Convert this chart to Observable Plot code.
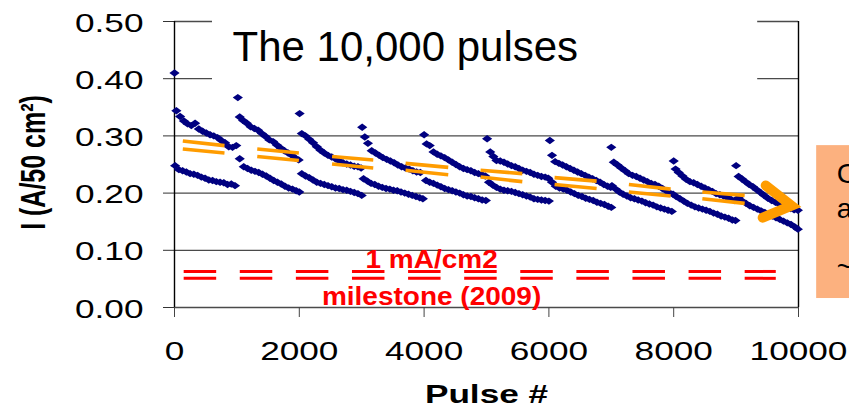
<!DOCTYPE html>
<html>
<head>
<meta charset="utf-8">
<script src="https://cdn.jsdelivr.net/npm/d3@7"></script>
<script src="https://cdn.jsdelivr.net/npm/@observablehq/plot@0.6"></script>
<style>
  html, body { margin: 0; padding: 0; background: #fff; }
  #chart svg { display: block; overflow: visible; }
</style>
</head>
<body>
<div id="chart"></div>
<script>
// Axis ticks
const xTicks = [0, 2000, 4000, 6000, 8000, 10000];
const yTicks = [0, 0.1, 0.2, 0.3, 0.4, 0.5];

// First pulse of every 1000-pulse block (the high point after each restart)
const spikePulse = [0, 1015, 2005, 3008, 4000, 5010, 6015, 7000, 8000, 9000];
const spikeI = [0.41, 0.367, 0.339, 0.315, 0.302, 0.295, 0.292, 0.28, 0.256, 0.248];

// Upper current band
const upperPulse = [
  30, 90, 150, 210, 270, 330, 390, 450, 510, 570, 630, 690, 750, 810, 870, 930, 990,
  1045, 1100, 1160, 1220, 1280, 1340, 1400, 1460, 1520, 1580, 1640, 1700, 1760, 1820, 1880, 1940, 1990,
  2040, 2100, 2160, 2220, 2280, 2340, 2400, 2460, 2520, 2580, 2640, 2700, 2760, 2820, 2880, 2940, 2990,
  3050, 3100, 3160, 3220, 3280, 3340, 3400, 3460, 3520, 3580, 3640, 3700, 3760, 3820, 3880, 3940,
  4040, 4090, 4150, 4210, 4270, 4330, 4390, 4450, 4510, 4570, 4630, 4690, 4750, 4810, 4870, 4930, 4980,
  5060, 5110, 5160, 5220, 5280, 5340, 5400, 5460, 5520, 5580, 5640, 5700, 5760, 5820, 5880, 5940, 5990,
  6050, 6100, 6160, 6220, 6280, 6340, 6400, 6460, 6520, 6580, 6640, 6700, 6760, 6820, 6880, 6940, 6990,
  7040, 7100, 7160, 7220, 7280, 7340, 7400, 7460, 7520, 7580, 7640, 7700, 7760, 7820, 7880, 7940, 7990,
  8030, 8080, 8140, 8200, 8260, 8320, 8380, 8440, 8500, 8560, 8620, 8680, 8740, 8800, 8860, 8920, 8980,
  9040, 9090, 9150, 9210, 9270, 9330, 9390, 9450, 9510, 9570, 9630, 9690, 9750, 9810, 9870, 9930, 9990
];
const upperI = [
  0.344, 0.334, 0.326, 0.321, 0.318, 0.322, 0.312, 0.308, 0.305, 0.302, 0.300, 0.297, 0.292, 0.288, 0.281, 0.280, 0.283,
  0.333, 0.327, 0.322, 0.316, 0.313, 0.310, 0.304, 0.299, 0.293, 0.290, 0.284, 0.279, 0.274, 0.270, 0.266, 0.261, 0.258,
  0.304, 0.300, 0.294, 0.288, 0.281, 0.275, 0.270, 0.266, 0.263, 0.260, 0.256, 0.253, 0.251, 0.249, 0.247, 0.246, 0.244,
  0.298, 0.287, 0.274, 0.270, 0.266, 0.262, 0.259, 0.256, 0.253, 0.249, 0.246, 0.244, 0.242, 0.239, 0.237, 0.236,
  0.286, 0.283, 0.272, 0.268, 0.265, 0.262, 0.258, 0.254, 0.250, 0.246, 0.243, 0.241, 0.239, 0.236, 0.234, 0.232, 0.230,
  0.272, 0.264, 0.257, 0.256, 0.254, 0.251, 0.248, 0.246, 0.243, 0.240, 0.238, 0.236, 0.233, 0.231, 0.229, 0.228, 0.226,
  0.266, 0.255, 0.252, 0.249, 0.246, 0.243, 0.240, 0.237, 0.234, 0.231, 0.228, 0.225, 0.222, 0.219, 0.215, 0.212, 0.210,
  0.254, 0.249, 0.244, 0.239, 0.234, 0.231, 0.229, 0.226, 0.223, 0.220, 0.217, 0.215, 0.212, 0.208, 0.204, 0.200, 0.198,
  0.242, 0.236, 0.230, 0.224, 0.220, 0.218, 0.215, 0.212, 0.209, 0.206, 0.203, 0.199, 0.197, 0.195, 0.192, 0.189, 0.187,
  0.229, 0.225, 0.220, 0.215, 0.211, 0.206, 0.201, 0.196, 0.191, 0.187, 0.184, 0.181, 0.178, 0.175, 0.173, 0.171, 0.170
];

// Lower current band
const lowerPulse = [
  10, 70, 130, 190, 250, 310, 370, 430, 490, 550, 610, 670, 730, 790, 850, 910, 970,
  1045, 1110, 1170, 1230, 1290, 1350, 1410, 1470, 1530, 1590, 1650, 1710, 1770, 1830, 1890, 1950, 2000,
  2040, 2100, 2160, 2220, 2280, 2340, 2400, 2460, 2520, 2580, 2640, 2700, 2760, 2820, 2880, 2940, 3000,
  3030, 3090, 3150, 3210, 3270, 3330, 3390, 3450, 3510, 3570, 3630, 3690, 3750, 3810, 3870, 3930, 3980,
  4030, 4090, 4150, 4210, 4270, 4330, 4390, 4450, 4510, 4570, 4630, 4690, 4750, 4810, 4870, 4930, 4990,
  5040, 5100, 5160, 5220, 5280, 5340, 5400, 5460, 5520, 5580, 5640, 5700, 5760, 5820, 5880, 5940, 6000,
  6050, 6110, 6170, 6230, 6290, 6350, 6410, 6470, 6530, 6590, 6650, 6710, 6770, 6830, 6890, 6950, 7000,
  7010, 7070, 7130, 7190, 7250, 7310, 7370, 7430, 7490, 7550, 7610, 7670, 7730, 7790, 7850, 7910, 7970,
  8040, 8100, 8160, 8220, 8280, 8340, 8400, 8460, 8520, 8580, 8640, 8700, 8760, 8820, 8880, 8940, 8990,
  9040, 9100, 9160, 9220, 9280, 9340, 9400, 9460, 9520, 9580, 9640, 9700, 9760, 9820, 9880, 9940, 9990
];
const lowerI = [
  0.248, 0.241, 0.239, 0.237, 0.234, 0.233, 0.231, 0.228, 0.226, 0.223, 0.222, 0.220, 0.219, 0.218, 0.215, 0.216, 0.213,
  0.260, 0.246, 0.243, 0.240, 0.238, 0.236, 0.233, 0.230, 0.226, 0.222, 0.219, 0.216, 0.212, 0.209, 0.207, 0.204, 0.202,
  0.234, 0.230, 0.227, 0.223, 0.219, 0.217, 0.215, 0.213, 0.211, 0.209, 0.208, 0.206, 0.205, 0.203, 0.201, 0.199, 0.196,
  0.225, 0.221, 0.217, 0.215, 0.212, 0.210, 0.208, 0.207, 0.205, 0.204, 0.202, 0.200, 0.198, 0.196, 0.194, 0.192, 0.190,
  0.222, 0.219, 0.217, 0.214, 0.211, 0.208, 0.206, 0.204, 0.202, 0.200, 0.197, 0.195, 0.194, 0.192, 0.190, 0.188, 0.187,
  0.219, 0.214, 0.210, 0.207, 0.205, 0.204, 0.203, 0.201, 0.199, 0.197, 0.195, 0.193, 0.190, 0.189, 0.188, 0.187, 0.186,
  0.219, 0.212, 0.209, 0.207, 0.205, 0.202, 0.199, 0.196, 0.194, 0.191, 0.189, 0.187, 0.184, 0.182, 0.180, 0.177, 0.175,
  0.213, 0.207, 0.202, 0.198, 0.195, 0.192, 0.190, 0.188, 0.186, 0.183, 0.181, 0.179, 0.176, 0.174, 0.172, 0.170, 0.168,
  0.194, 0.190, 0.186, 0.182, 0.179, 0.176, 0.174, 0.172, 0.170, 0.168, 0.165, 0.163, 0.160, 0.158, 0.156, 0.153, 0.152,
  0.192, 0.186, 0.182, 0.178, 0.175, 0.172, 0.169, 0.166, 0.163, 0.160, 0.157, 0.154, 0.151, 0.148, 0.145, 0.141, 0.137
];

// Orange double-line trend markers
const trendStart = [133, 1326, 2525, 3703, 4905, 6091, 7282, 8459];
const trendEnd = [801, 1993, 3185, 4387, 5574, 6765, 7951, 9137];
const trendUpperFrom = [0.291, 0.277, 0.264, 0.252, 0.240, 0.227, 0.215, 0.202];
const trendUpperTo = [0.283, 0.270, 0.258, 0.245, 0.234, 0.221, 0.207, 0.196];
const trendLowerFrom = [0.277, 0.264, 0.251, 0.240, 0.228, 0.215, 0.202, 0.190];
const trendLowerTo = [0.270, 0.257, 0.244, 0.232, 0.220, 0.208, 0.195, 0.182];

// 1 mA/cm2 milestone (double dashed red line)
const milestoneI = [0.063, 0.051];
const milestoneFrom = 155;
const milestoneTo = 9644;

// Orange chevron pointing right
const arrowPulse = [9474, 9888, 9426];
const arrowI = [0.2133, 0.178, 0.157];

// Call-out box at the right edge
const calloutLines = ["C", "a", "~"];
const calloutBaselineI = [0.2168, 0.1556, 0.0542];

const FONT = "'Liberation Sans', Arial, Helvetica, sans-serif";

const points = [
  ...spikePulse.map((p, i) => ({pulse: p, current: spikeI[i]})),
  ...upperPulse.map((p, i) => ({pulse: p, current: upperI[i]})),
  ...lowerPulse.map((p, i) => ({pulse: p, current: lowerI[i]}))
];
const trends = trendStart.flatMap((s, i) => [
  {x1: s, x2: trendEnd[i], y1: trendUpperFrom[i], y2: trendUpperTo[i]},
  {x1: s, x2: trendEnd[i], y1: trendLowerFrom[i], y2: trendLowerTo[i]}
]);
const arrow = arrowPulse.map((p, i) => ({pulse: p, current: arrowI[i]}));
const callout = calloutLines.map((t, i) => ({text: t, y: calloutBaselineI[i]}));

// Diamond marker that is wider than it is tall
const wideDiamond = {
  draw(context, size) {
    const r = Math.sqrt(size / Math.PI);
    const w = r * 1.38;
    context.moveTo(0, -r);
    context.lineTo(w, 0);
    context.lineTo(0, r);
    context.lineTo(-w, 0);
    context.closePath();
  }
};

const yLabel = "I (A/50 cm²)";
const xLabel = "Pulse #";
const milestoneLabel = ["1 mA/cm2", "milestone (2009)"];

const chart = Plot.plot({
  width: 849,
  height: 407,
  marginLeft: 174,
  marginRight: 51,
  marginTop: 21,
  marginBottom: 100,
  style: {fontFamily: FONT, background: "#fff", overflow: "visible"},
  x: {domain: [0, 10000], axis: null},
  y: {domain: [0, 0.5], axis: null},
  marks: [
    Plot.gridY(yTicks, {stroke: "#4a4a4a", strokeOpacity: 1, strokeWidth: 1.3}),
    Plot.axisY(yTicks, {tickSize: 11, tickFormat: () => "", label: null, stroke: "#333"}),
    Plot.axisX(xTicks, {tickSize: 10, tickFormat: () => "", label: null, stroke: "#444"}),
    Plot.ruleX([0], {stroke: "#000", strokeWidth: 1.4}),
    Plot.ruleX([10000], {stroke: "#000", strokeWidth: 1.4}),

    // tick labels
    Plot.text(yTicks, {x: 0, y: (d) => d, text: (d) => d.toFixed(2), textAnchor: "end", dx: -31, dy: 2,
      fontSize: 25.5, fill: "#000"}),
    Plot.text(xTicks, {x: (d) => d, y: 0, text: (d) => String(d), lineAnchor: "bottom", dy: 52,
      fontSize: 25.5, fill: "#000"}),

    // axis titles
    Plot.text([xLabel], {frameAnchor: "bottom", dy: 95, lineAnchor: "bottom", textAnchor: "middle",
      fontSize: 25.5, fontWeight: "bold", fill: "#000"}),
    Plot.text([yLabel], {frameAnchor: "left", dx: -141, dy: -2, rotate: -90, textAnchor: "middle",
      lineAnchor: "middle", fontSize: 25, fontWeight: "bold", fill: "#000"}),

    // title box
    Plot.rect([{}], {x1: 609, x2: 9346, y1: 0.385, y2: 0.52, fill: "#fff"}),
    Plot.text(["The 10,000 pulses"], {x: 930, y: 0.4318, textAnchor: "start", lineAnchor: "bottom",
      fontSize: 42, fill: "#000"}),

    // measured currents
    Plot.dot(points, {x: "pulse", y: "current", symbol: wideDiamond, r: 3.7, fill: "#000080", stroke: "none"}),

    // trend markers
    Plot.link(trends, {x1: "x1", x2: "x2", y1: "y1", y2: "y2", stroke: "#FF9C00", strokeWidth: 3.6}),

    // milestone
    Plot.ruleY(milestoneI, {x1: milestoneFrom, x2: milestoneTo, stroke: "#FF0000", strokeWidth: 3,
      strokeDasharray: "32.5,23.6"}),
    Plot.text([milestoneLabel[0]], {x: 4120, y: 0.0682, lineAnchor: "bottom", fontSize: 25, fontWeight: "bold",
      fill: "#FF0000"}),
    Plot.text([milestoneLabel[1]], {x: 4120, y: 0.0035, lineAnchor: "bottom", fontSize: 25, fontWeight: "bold",
      fill: "#FF0000"}),

    // chevron
    Plot.line(arrow, {x: "pulse", y: "current", stroke: "#FF9C00", strokeWidth: 10,
      strokeLinecap: "round", strokeLinejoin: "miter", strokeMiterlimit: 10}),

    // call-out box
    Plot.rect([{}], {x1: 10291, x2: 11200, y1: 0.0157, y2: 0.283, fill: "#FCB17F"}),
    Plot.text(callout, {x: 10612, y: "y", text: "text", textAnchor: "start", lineAnchor: "bottom",
      fontSize: 28, fill: "#000"})
  ]
});

// The axis lettering is drawn wider than normal: stretch those labels about their anchor
const stretchBy = new Map([
  ...yTicks.map((d) => [d.toFixed(2), [1.38, 1]]),
  ...xTicks.map((d) => [String(d), [1.38, 1]]),
  [xLabel, [1.38, 1]],
  [yLabel, [1, 1.38]],
  [milestoneLabel[0], [1.12, 1]],
  [milestoneLabel[1], [1.12, 1]]
]);
chart.querySelectorAll("text").forEach((t) => {
  const s = stretchBy.get(t.textContent);
  if (!s) return;
  // fold plain pixel x/y attributes into the transform; em-based offsets stay as they are
  let shift = "";
  const px = t.getAttribute("x");
  const py = t.getAttribute("y");
  const isNum = (v) => v != null && v !== "" && !isNaN(+v);
  if (isNum(px) || isNum(py)) {
    shift = ` translate(${isNum(px) ? +px : 0},${isNum(py) ? +py : 0})`;
    if (isNum(px)) t.removeAttribute("x");
    if (isNum(py)) t.removeAttribute("y");
  }
  const tr = t.getAttribute("transform") || "";
  t.setAttribute("transform", `${tr}${shift} scale(${s[0]},${s[1]})`);
});

document.getElementById("chart").appendChild(chart);
</script>
</body>
</html>
